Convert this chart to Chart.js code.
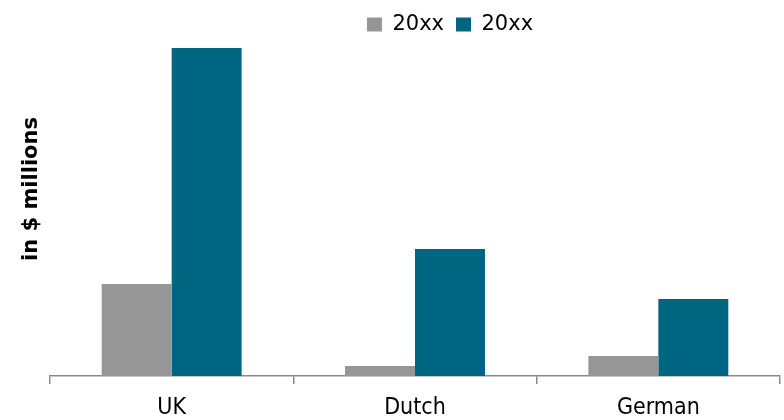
<!DOCTYPE html>
<html>
<head>
<meta charset="utf-8">
<script src="https://cdn.jsdelivr.net/npm/chart.js@4/dist/chart.umd.min.js"></script>
<style>
  html, body { margin: 0; padding: 0; background: #ffffff; }
  #wrap { width: 784px; height: 420px; }
</style>
</head>
<body>
<div id="wrap"><canvas id="c" width="784" height="420"></canvas></div>
<script>
// Categories and series (in $ millions)
const categories = ['UK', 'Dutch', 'German'];
const seriesNames = ['20xx', '20xx'];
const earlierYear = [92, 10, 20];
const laterYear = [328, 127, 77];
const yAxisTitle = 'in $ millions';

const GRAY = '#969696';
const TEAL = '#006580';
const AXIS = '#8a8a8a';

// Shift the legend right so it sits over the plot rather than the canvas centre
const legendShift = {
  id: 'legendShift',
  afterLayout(chart) {
    const lg = chart.legend;
    if (lg) { lg.left += 35; lg.right += 35; }
  }
};

// Rotated value-axis caption, drawn left of the plot
const axisCaption = {
  id: 'axisCaption',
  afterDraw(chart) {
    const ctx = chart.ctx;
    ctx.save();
    ctx.translate(37, 189);
    ctx.rotate(-Math.PI / 2);
    ctx.fillStyle = '#000000';
    ctx.font = 'bold 21px "DejaVu Sans"';
    ctx.textAlign = 'center';
    ctx.textBaseline = 'alphabetic';
    ctx.fillText(yAxisTitle, 0, 0);
    ctx.restore();
  }
};

new Chart(document.getElementById('c'), {
  type: 'bar',
  data: {
    labels: categories,
    datasets: [
      { label: seriesNames[0], data: earlierYear, backgroundColor: GRAY, borderWidth: 0 },
      { label: seriesNames[1], data: laterYear, backgroundColor: TEAL, borderWidth: 0 }
    ]
  },
  options: {
    responsive: false,
    animation: false,
    devicePixelRatio: 1,
    layout: { padding: { left: 50, right: 4, top: 2, bottom: -13 } },
    datasets: {
      bar: { categoryPercentage: 0.575, barPercentage: 1 }
    },
    plugins: {
      tooltip: { enabled: false },
      legend: {
        position: 'top',
        labels: {
          boxWidth: 15,
          boxHeight: 14,
          padding: 12,
          color: '#000000',
          font: { family: 'DejaVu Sans', size: 21 }
        }
      }
    },
    scales: {
      x: {
        offset: true,
        grid: {
          display: true,
          drawOnChartArea: false,
          drawTicks: true,
          tickLength: 8,
          color: AXIS,
          lineWidth: 1.5
        },
        border: { display: true, color: AXIS, width: 1.5 },
        ticks: {
          color: '#000000',
          padding: 13,
          font: { family: 'DejaVu Sans Condensed', size: 23, lineHeight: 1 }
        }
      },
      y: {
        display: false,
        min: 0,
        max: 331
      }
    }
  },
  plugins: [legendShift, axisCaption]
});
</script>
</body>
</html>
